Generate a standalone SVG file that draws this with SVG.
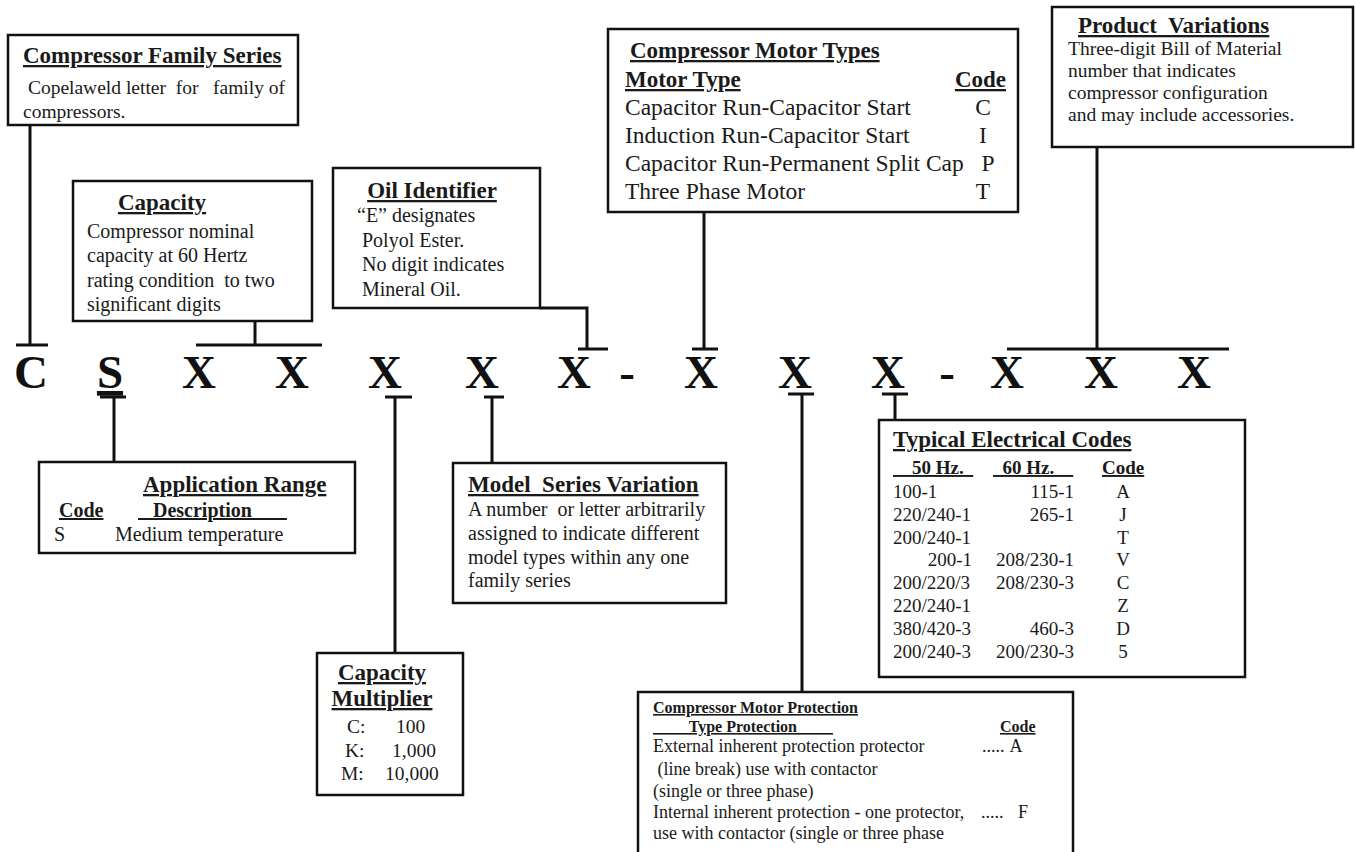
<svg xmlns="http://www.w3.org/2000/svg" width="1355" height="852" viewBox="0 0 1355 852">
<style>
.box{fill:#fff;stroke:#111;stroke-width:2.5}
.ln{stroke:#111;stroke-width:3;fill:none}
text{font-family:"Liberation Serif","Times New Roman",serif;fill:#1a1a1a;white-space:pre}
.t{font-size:23px;font-weight:bold;text-decoration:underline}
.h{font-size:20px;font-weight:bold;text-decoration:underline}
.b{font-size:20px}
.b19{font-size:19.5px}
.mt{font-size:23.5px}
.ec{font-size:19px}
.pr{font-size:18px}
.ph{font-size:16px;font-weight:bold;text-decoration:underline}
.big{font-size:47px;font-weight:bold;fill:#111}
.m{text-anchor:middle}
.e{text-anchor:end}
</style>
<rect width="1355" height="852" fill="#fff"/>
<g id="connectors">
<path class="ln" d="M30 125V345M16 345H48"/>
<path class="ln" d="M255 321V345M196 345H322"/>
<path class="ln" d="M540 308H587V349M578 349H608"/>
<path class="ln" d="M704 212V349M692 349H718"/>
<path class="ln" d="M1097 147V349M1007 349H1229"/>
<path class="ln" d="M114 462V397M100 397H126"/>
<path class="ln" d="M395 653V397M385 397H412"/>
<path class="ln" d="M492 463V397M484 397H504"/>
<path class="ln" d="M802 692V394M788 394H814"/>
<path class="ln" d="M895 420V394M882 394H908"/>
</g>
<g id="code">
<text class="big m" x="31" y="388">C</text>
<text class="big m" x="110" y="388" text-decoration="underline">S</text>
<text class="big m" x="199" y="388">X</text>
<text class="big m" x="292" y="388">X</text>
<text class="big m" x="385" y="388">X</text>
<text class="big m" x="482" y="388">X</text>
<text class="big m" x="574" y="388">X</text>
<text class="big m" x="627" y="388">-</text>
<text class="big m" x="701" y="388">X</text>
<text class="big m" x="795" y="388">X</text>
<text class="big m" x="888" y="388">X</text>
<text class="big m" x="947" y="388">-</text>
<text class="big m" x="1007" y="388">X</text>
<text class="big m" x="1101" y="388">X</text>
<text class="big m" x="1194" y="388">X</text>
</g>
<g id="family">
<rect class="box" x="8" y="35" width="290" height="90"/>
<text class="t" x="23" y="63">Compressor Family Series</text>
<text class="b19" x="23" y="94" xml:space="preserve"> Copelaweld letter  for   family of</text>
<text class="b19" x="23" y="118">compressors.</text>
</g>
<g id="capacity">
<rect class="box" x="73" y="181" width="239" height="140"/>
<text class="t m" x="162" y="210">Capacity</text>
<text class="b" x="87" y="238">Compressor nominal</text>
<text class="b" x="87" y="262">capacity at 60 Hertz</text>
<text class="b" x="87" y="287" xml:space="preserve">rating condition  to two</text>
<text class="b" x="87" y="311">significant digits</text>
</g>
<g id="oil">
<rect class="box" x="333" y="168" width="207" height="140"/>
<text class="t m" x="432" y="198">Oil Identifier</text>
<text class="b" x="357" y="222">“E” designates</text>
<text class="b" x="362" y="247">Polyol Ester.</text>
<text class="b" x="362" y="271">No digit indicates</text>
<text class="b" x="362" y="296">Mineral Oil.</text>
</g>
<g id="motor-types">
<rect class="box" x="608" y="29" width="410" height="183"/>
<text class="t" x="630" y="58">Compressor Motor Types</text>
<text class="t" x="625" y="87">Motor Type</text>
<text class="t e" x="1006" y="87">Code</text>
<text class="mt" x="625" y="115">Capacitor Run-Capacitor Start</text>
<text class="mt m" x="983" y="115">C</text>
<text class="mt" x="625" y="143">Induction Run-Capacitor Start</text>
<text class="mt m" x="983" y="143">I</text>
<text class="mt" x="625" y="171">Capacitor Run-Permanent Split Cap</text>
<text class="mt m" x="988" y="171">P</text>
<text class="mt" x="625" y="199">Three Phase Motor</text>
<text class="mt m" x="983" y="199">T</text>
</g>
<g id="product">
<rect class="box" x="1052" y="7" width="301" height="140"/>
<text class="t" x="1078" y="33" xml:space="preserve">Product  Variations</text>
<text class="b19" x="1068" y="55">Three-digit Bill of Material</text>
<text class="b19" x="1068" y="77">number that indicates</text>
<text class="b19" x="1068" y="99">compressor configuration</text>
<text class="b19" x="1068" y="121">and may include accessories.</text>
</g>
<g id="application">
<rect class="box" x="39" y="462" width="316" height="91"/>
<text class="t" x="143" y="492">Application Range</text>
<text class="h" x="59" y="517">Code</text>
<text class="h" x="138" y="517" xml:space="preserve">   Description       </text>
<text class="b" x="54" y="541">S</text>
<text class="b" x="115" y="541">Medium temperature</text>
</g>
<g id="model">
<rect class="box" x="453" y="463" width="273" height="140"/>
<text class="t" x="468" y="492" xml:space="preserve">Model  Series Variation</text>
<text class="b" x="468" y="516" xml:space="preserve">A number  or letter arbitrarily</text>
<text class="b" x="468" y="540">assigned to indicate different</text>
<text class="b" x="468" y="564">model types within any one</text>
<text class="b" x="468" y="587">family series</text>
</g>
<g id="multiplier">
<rect class="box" x="317" y="653" width="146" height="142"/>
<text class="t m" x="382" y="680">Capacity</text>
<text class="t m" x="382" y="706">Multiplier</text>
<text class="b19" x="347" y="733">C:</text>
<text class="b19" x="396" y="733">100</text>
<text class="b19" x="345" y="757">K:</text>
<text class="b19" x="392" y="757">1,000</text>
<text class="b19" x="341" y="780">M:</text>
<text class="b19" x="385" y="780">10,000</text>
</g>
<g id="electrical">
<rect class="box" x="879" y="420" width="366" height="257"/>
<text class="t" x="893" y="447">Typical Electrical Codes</text>
<text class="h" x="893" y="474" style="font-size:19px" xml:space="preserve">    50 Hz.  </text>
<text class="h" x="993" y="474" style="font-size:19px" xml:space="preserve">  60 Hz.    </text>
<text class="h" x="1102" y="474" style="font-size:19px">Code</text>
<text class="ec" x="893" y="498">100-1</text><text class="ec e" x="1074" y="498">115-1</text><text class="ec m" x="1123" y="498">A</text>
<text class="ec" x="893" y="521">220/240-1</text><text class="ec e" x="1074" y="521">265-1</text><text class="ec m" x="1123" y="521">J</text>
<text class="ec" x="893" y="544">200/240-1</text><text class="ec m" x="1123" y="544">T</text>
<text class="ec e" x="972" y="566">200-1</text><text class="ec e" x="1074" y="566">208/230-1</text><text class="ec m" x="1123" y="566">V</text>
<text class="ec" x="893" y="589">200/220/3</text><text class="ec e" x="1074" y="589">208/230-3</text><text class="ec m" x="1123" y="589">C</text>
<text class="ec" x="893" y="612">220/240-1</text><text class="ec m" x="1123" y="612">Z</text>
<text class="ec" x="893" y="635">380/420-3</text><text class="ec e" x="1074" y="635">460-3</text><text class="ec m" x="1123" y="635">D</text>
<text class="ec" x="893" y="658">200/240-3</text><text class="ec e" x="1074" y="658">200/230-3</text><text class="ec m" x="1123" y="658">5</text>
</g>
<g id="protection">
<rect class="box" x="638" y="692" width="435" height="180"/>
<text class="ph" x="653" y="713">Compressor Motor Protection</text>
<text class="ph" x="653" y="732" xml:space="preserve">         Type Protection         </text>
<text class="ph" x="1000" y="732">Code</text>
<text class="pr" x="653" y="752">External inherent protection protector</text>
<text class="pr" x="982" y="752">.....</text>
<text class="pr m" x="1016" y="752">A</text>
<text class="pr" x="653" y="775" xml:space="preserve"> (line break) use with contactor</text>
<text class="pr" x="653" y="797">(single or three phase)</text>
<text class="pr" x="653" y="818">Internal inherent protection - one protector,</text>
<text class="pr" x="981" y="818">.....</text>
<text class="pr m" x="1023" y="818">F</text>
<text class="pr" x="653" y="839">use with contactor (single or three phase</text>
</g>
</svg>
